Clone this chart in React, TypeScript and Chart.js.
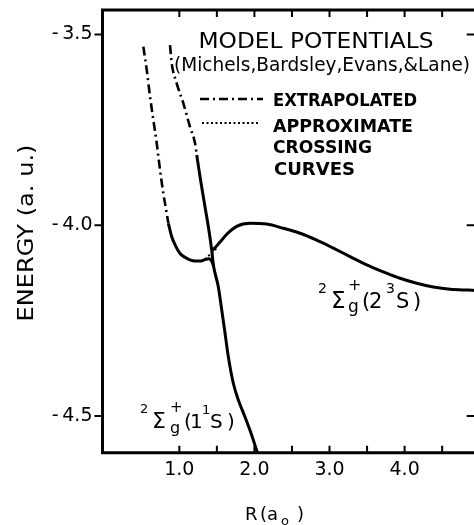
import React, { useEffect, useRef } from 'react';
import { Chart, registerables } from 'chart.js';

Chart.register(...registerables);

const FONT = '"DejaVu Sans", "Liberation Sans", Arial, sans-serif';

// 1^1S state, extrapolated part (dash-dot)
const lowerExtrapX = [0.521, 0.566, 0.61, 0.654, 0.699, 0.743, 0.787, 0.832, 0.854];
const lowerExtrapY = [-3.532, -3.593, -3.663, -3.724, -3.785, -3.855, -3.916, -3.969, -3.995];

// 1^1S state, computed well (solid)
const lowerWellX = [0.854, 0.899, 0.95, 1.009, 1.076, 1.142, 1.209, 1.276, 1.342, 1.395, 1.435, 1.457];
const lowerWellY = [-3.995, -4.03, -4.054, -4.074, -4.084, -4.091, -4.094, -4.094, -4.09, -4.088, -4.096, -4.108];

// 2^3S state, extrapolated repulsive part (dash-dot)
const upperExtrapX = [0.876, 0.899, 0.965, 1.053, 1.142, 1.209, 1.232];
const upperExtrapY = [-3.528, -3.576, -3.628, -3.68, -3.742, -3.785, -3.816];

// steep repulsive wall continuing into the 1^1S curve (solid)
const steepX = [1.232, 1.282, 1.349, 1.393, 1.431, 1.443, 1.457, 1.519, 1.565, 1.609, 1.652, 1.719, 1.786, 1.868, 1.955, 2.041, 2.061];
const steepY = [-3.816, -3.881, -3.96, -4.012, -4.065, -4.086, -4.108, -4.161, -4.222, -4.283, -4.344, -4.414, -4.458, -4.499, -4.545, -4.596, -4.606];

// 2^3S state hump (solid)
const humpX = [1.431, 1.475, 1.542, 1.635, 1.764, 1.941, 2.164, 2.385, 2.607, 2.83, 3.051, 3.273, 3.495, 3.716, 3.939, 4.161, 4.382, 4.605, 4.848, 5.0];
const humpY = [-4.067, -4.059, -4.044, -4.023, -4.003, -3.995, -3.997, -4.008, -4.021, -4.039, -4.06, -4.082, -4.104, -4.122, -4.139, -4.152, -4.162, -4.168, -4.17, -4.171];

// approximate crossing curve (dotted)
const crossingX = [1.342, 1.515];
const crossingY = [-4.089, -4.057];

const xTickLabels = [1, 2, 3, 4];
const xTickMarks = [1, 1.5, 2, 2.5, 3, 3.5, 4, 4.5];
const yTickValues = [-4.5, -4.0, -3.5];

const X_MIN = -0.023;
const X_MAX = 5.0;
const Y_MIN = -4.596;
const Y_MAX = -3.436;

const DASH_DOT = [9, 4, 2, 4];
const DOTTED = [2, 2.5];

function pts(xs: number[], ys: number[]) {
  return xs.map((x, i) => ({ x, y: ys[i] }));
}

function drawFit(ctx: CanvasRenderingContext2D, text: string, x: number, y: number, font: string, width: number, align: CanvasTextAlign) {
  ctx.save();
  ctx.font = font;
  const w = ctx.measureText(text).width;
  const sx = w > 0 ? width / w : 1;
  ctx.translate(x, y);
  ctx.scale(sx, 1);
  ctx.textAlign = align;
  ctx.textBaseline = 'alphabetic';
  ctx.fillText(text, 0, 0);
  ctx.restore();
}

type Seg = { t: string; dx: number; dy: number; size: number };

function drawRich(ctx: CanvasRenderingContext2D, segs: Seg[], x: number, y: number) {
  ctx.save();
  ctx.textAlign = 'left';
  ctx.textBaseline = 'alphabetic';
  segs.forEach((s) => {
    ctx.font = `${s.size}px ${FONT}`;
    ctx.fillText(s.t, x + s.dx, y + s.dy);
  });
  ctx.restore();
}

const overlayPlugin = {
  id: 'overlay',
  afterDatasetsDraw(chart: any) {
    const { ctx, chartArea: a, scales } = chart;
    const xs = scales.x;
    const ys = scales.y;
    ctx.save();
    ctx.strokeStyle = '#000';
    ctx.fillStyle = '#000';
    // frame
    ctx.lineWidth = 3;
    ctx.lineCap = 'square';
    ctx.beginPath();
    ctx.moveTo(a.left, a.bottom);
    ctx.lineTo(a.left, a.top);
    ctx.lineTo(a.right, a.top);
    ctx.lineTo(a.right, a.bottom);
    ctx.lineTo(a.left, a.bottom);
    ctx.stroke();
    // tick marks
    ctx.lineWidth = 2;
    ctx.lineCap = 'butt';
    ctx.beginPath();
    xTickMarks.forEach((v) => {
      const px = xs.getPixelForValue(v);
      ctx.moveTo(px, a.bottom);
      ctx.lineTo(px, a.bottom - 7);
      ctx.moveTo(px, a.top);
      ctx.lineTo(px, a.top + 7);
    });
    yTickValues.forEach((v) => {
      const py = ys.getPixelForValue(v);
      ctx.moveTo(a.left - 8, py);
      ctx.lineTo(a.left, py);
      ctx.moveTo(a.right, py);
      ctx.lineTo(a.right - 13, py);
    });
    ctx.stroke();

    // legend samples
    ctx.lineWidth = 2.5;
    ctx.setLineDash(DASH_DOT);
    ctx.beginPath();
    ctx.moveTo(200, 99);
    ctx.lineTo(263, 99);
    ctx.stroke();
    ctx.lineWidth = 2;
    ctx.setLineDash(DOTTED);
    ctx.beginPath();
    ctx.moveTo(202, 123);
    ctx.lineTo(260, 123);
    ctx.stroke();
    ctx.setLineDash([]);

    // texts
    drawFit(ctx, 'MODEL POTENTIALS', 316, 48, `21px ${FONT}`, 235, 'center');
    drawFit(ctx, '(Michels,Bardsley,Evans,&Lane)', 174, 71, `19px ${FONT}`, 296, 'left');
    drawFit(ctx, 'EXTRAPOLATED', 273, 106, `bold 17px ${FONT}`, 144, 'left');
    drawFit(ctx, 'APPROXIMATE', 273, 132, `bold 17px ${FONT}`, 140, 'left');
    drawFit(ctx, 'CROSSING', 273, 153, `bold 17px ${FONT}`, 99, 'left');
    drawFit(ctx, 'CURVES', 274, 175, `bold 17px ${FONT}`, 81, 'left');

    drawRich(ctx, [
      { t: '2', dx: 0, dy: -15, size: 14 },
      { t: 'Σ', dx: 13, dy: 0, size: 23 },
      { t: 'g', dx: 30, dy: 4, size: 17 },
      { t: '+', dx: 30, dy: -18, size: 16 },
      { t: '(', dx: 44, dy: 0, size: 21 },
      { t: '2', dx: 51, dy: 0, size: 21 },
      { t: '3', dx: 68, dy: -15, size: 14 },
      { t: 'S', dx: 78, dy: 0, size: 21 },
      { t: ')', dx: 95, dy: 0, size: 21 },
    ], 318, 308);

    drawRich(ctx, [
      { t: '2', dx: 0, dy: -15, size: 13 },
      { t: 'Σ', dx: 12, dy: 0, size: 22 },
      { t: 'g', dx: 30, dy: 5, size: 16 },
      { t: '+', dx: 30, dy: -16, size: 15 },
      { t: '(', dx: 44, dy: 0, size: 20 },
      { t: '1', dx: 50, dy: 0, size: 20 },
      { t: '1', dx: 62, dy: -14, size: 13 },
      { t: 'S', dx: 70, dy: 0, size: 20 },
      { t: ')', dx: 87, dy: 0, size: 20 },
    ], 140, 428);

    // axis titles
    ctx.save();
    ctx.translate(33, 233);
    ctx.rotate(-Math.PI / 2);
    drawFit(ctx, 'ENERGY (a. u.)', 0, 0, `22px ${FONT}`, 177, 'center');
    ctx.restore();

    drawRich(ctx, [
      { t: 'R', dx: 0, dy: 0, size: 18 },
      { t: '(', dx: 15, dy: 0, size: 18 },
      { t: 'a', dx: 22, dy: 0, size: 18 },
      { t: 'o', dx: 36, dy: 5, size: 13 },
      { t: ')', dx: 52, dy: 0, size: 18 },
    ], 245, 520);

    ctx.restore();
  },
};

export default function App() {
  const ref = useRef<HTMLCanvasElement | null>(null);

  useEffect(() => {
    if (!ref.current) return;
    const base = {
      borderColor: '#000',
      backgroundColor: '#000',
      pointRadius: 0,
      showLine: true,
      fill: false,
      cubicInterpolationMode: 'monotone' as const,
    };
    const chart = new Chart(ref.current, {
      type: 'scatter',
      data: {
        datasets: [
          { ...base, label: '1¹S extrapolated', data: pts(lowerExtrapX, lowerExtrapY), borderWidth: 2.6, borderDash: DASH_DOT },
          { ...base, label: '1¹S', data: pts(lowerWellX, lowerWellY), borderWidth: 3 },
          { ...base, label: '2³S extrapolated', data: pts(upperExtrapX, upperExtrapY), borderWidth: 2.6, borderDash: DASH_DOT },
          { ...base, label: 'repulsive wall', data: pts(steepX, steepY), borderWidth: 3 },
          { ...base, label: '2³S', data: pts(humpX, humpY), borderWidth: 3 },
          { ...base, label: 'approximate crossing', data: pts(crossingX, crossingY), borderWidth: 2, borderDash: DOTTED },
        ],
      },
      options: {
        responsive: false,
        animation: false,
        devicePixelRatio: 1,
        layout: { padding: { left: 0, right: 2.3, top: 10, bottom: 0 } },
        plugins: { legend: { display: false }, tooltip: { enabled: false } },
        scales: {
          x: {
            type: 'linear',
            min: X_MIN,
            max: X_MAX,
            grid: { display: false, drawTicks: false },
            border: { display: false },
            afterBuildTicks: (s: any) => {
              s.ticks = xTickLabels.map((v) => ({ value: v }));
            },
            afterFit: (s: any) => {
              s.height = 72.3;
              s.paddingLeft = 0;
              s.paddingRight = 0;
            },
            ticks: {
              color: '#000',
              padding: 8,
              maxRotation: 0,
              font: { family: FONT, size: 19, lineHeight: 1 },
              callback: (v: any) => Number(v).toFixed(1),
            },
          },
          y: {
            type: 'linear',
            min: Y_MIN,
            max: Y_MAX,
            grid: { display: false, drawTicks: false },
            border: { display: false },
            afterBuildTicks: (s: any) => {
              s.ticks = yTickValues.map((v) => ({ value: v }));
            },
            afterFit: (s: any) => {
              s.width = 102.5;
              s.paddingTop = 0;
              s.paddingBottom = 0;
            },
            ticks: {
              color: '#000',
              padding: 10,
              font: { family: FONT, size: 19, lineHeight: 1 },
              callback: (v: any) => '-\u2009' + Math.abs(Number(v)).toFixed(1),
            },
          },
        },
      },
      plugins: [overlayPlugin],
    });
    return () => chart.destroy();
  }, []);

  return (
    <div style={{ position: 'fixed', left: 0, top: 0, width: 474, height: 525, overflow: 'hidden', background: '#fff' }}>
      <canvas ref={ref} width={482} height={525} style={{ display: 'block' }} />
    </div>
  );
}
